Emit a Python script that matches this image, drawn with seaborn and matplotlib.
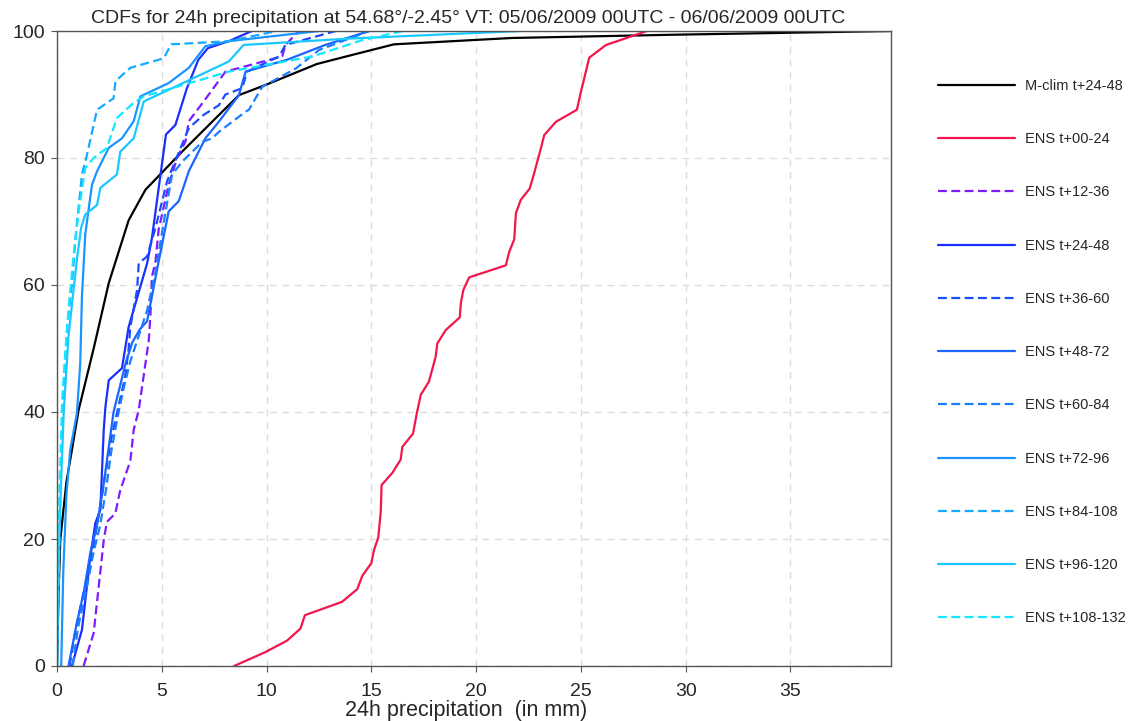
import matplotlib
matplotlib.use("Agg")
import matplotlib.pyplot as plt
import seaborn as sns
import pandas as pd

sns.set_style("ticks")
plt.rcParams["font.family"] = ["Liberation Sans", "DejaVu Sans"]

title = "CDFs for 24h precipitation at 54.68°/-2.45° VT: 05/06/2009 00UTC - 06/06/2009 00UTC"
xlabel = "24h precipitation  (in mm)"
x_ticks = [0, 5, 10, 15, 20, 25, 30, 35]
y_ticks = [0, 20, 40, 60, 80, 100]

labels = ["M-clim t+24-48", "ENS t+00-24", "ENS t+12-36", "ENS t+24-48", "ENS t+36-60",
          "ENS t+48-72", "ENS t+60-84", "ENS t+72-96", "ENS t+84-108", "ENS t+96-120",
          "ENS t+108-132"]

mclim_x = [0, 0.08, 0.16, 0.45, 0.71, 1.03, 1.75, 2.47, 3.42, 4.22, 5.97, 8.68, 9.95, 12.4, 13.93, 16.08, 21.7, 29.2, 39.8]
mclim_y = [0, 12, 20, 29, 34, 40.3, 50, 60.3, 70.2, 75, 81, 89.9, 91.5, 94.8, 96.1, 97.9, 98.9, 99.4, 100]

e00_x = [8.45, 9.95, 10.98, 11.62, 11.83, 13.6, 14.33, 14.57, 15.0, 15.13, 15.33, 15.45, 15.49, 16.0, 16.4, 16.48,
         16.99, 17.17, 17.36, 17.75, 18.07, 18.15, 18.55, 19.22, 19.27, 19.39, 19.67, 21.42, 21.58, 21.82, 21.9,
         22.13, 22.56, 22.77, 23.09, 23.25, 23.81, 24.81, 25.0, 25.4, 26.2, 28.15]
e00_y = [0, 2.2, 4.0, 5.9, 8.0, 10.1, 12.1, 14.2, 16.2, 18.3, 20.2, 24.3, 28.5, 30.4, 32.5, 34.5, 36.6, 39.8,
         42.7, 44.8, 48.7, 50.8, 52.9, 54.9, 57.1, 59.2, 61.2, 63.1, 65.2, 67.2, 71.3, 73.4, 75.2, 77.6, 81.5,
         83.6, 85.7, 87.6, 90.4, 95.8, 97.8, 100]

e12_x = [1.27, 1.75, 2.23, 2.38, 2.78, 3.02, 3.5, 3.66, 3.9, 4.38, 4.46, 4.53, 4.7, 4.85, 5.33, 5.73, 6.13, 6.29,
         7.0, 8.04, 10.75, 10.9, 11.54]
e12_y = [0, 5.2, 19.8, 22.7, 24, 27.7, 32.3, 37.2, 40.3, 51.3, 55.3, 61.3, 63.7, 68.7, 75.8, 80, 82.6, 85.8,
         88.9, 93.6, 96, 97.8, 100]

e24_x = [0.71, 1.19, 1.59, 1.83, 2.07, 2.23, 2.31, 2.47, 3.1, 3.42, 4.3, 4.53, 5.2, 5.65, 6.2, 6.75, 7.2, 8.2, 9.3]
e24_y = [0, 5.7, 17.2, 22.5, 24.6, 37.2, 40.8, 45, 46.9, 53.4, 63.4, 67.4, 83.7, 85.2, 91, 95.5, 97.3, 98.4, 100]

e36_x = [0.6, 0.9, 1.3, 1.7, 2.0, 2.3, 2.6, 2.86, 3.26, 3.42, 3.5, 3.82, 3.9, 4.3, 4.7, 5.25, 5.7, 6.29, 7.0,
         7.72, 8.04, 8.84, 9.07, 10.6, 10.9, 13.3]
e36_y = [0, 6, 12, 18, 24, 30, 36, 39.8, 45.7, 50, 53.4, 59.2, 63.4, 64.5, 69, 76.3, 80, 84.7, 86.8, 88.3, 90,
         91, 93.6, 96, 97.8, 100]

e48_x = [0.55, 0.9, 1.3, 1.6, 1.9, 2.2, 2.45, 2.7, 3.0, 3.3, 3.6, 3.95, 4.3, 4.85, 5.33, 5.81, 6.3, 7.08, 7.72,
         8.68, 9.0, 11.0, 12.8, 14.9]
e48_y = [0, 6, 12, 18, 22, 28, 34, 40, 44, 48, 51, 53, 54.3, 63.7, 71.6, 73.2, 78, 83.1, 85.7, 89.9, 93.6, 95.5,
         97.8, 100]

e60_x = [0.75, 1.0, 1.4, 1.75, 2.05, 2.35, 2.6, 2.94, 3.2, 3.5, 3.9, 4.3, 4.7, 5.1, 5.49, 6.0, 6.92, 7.4, 7.72,
         9.0, 9.16, 9.79, 9.95, 11.4, 12.5, 14.9]
e60_y = [0, 6, 12, 18, 22, 28, 34, 40, 44, 48, 52, 56, 62, 70, 77.4, 79.5, 82.5, 83.1, 84.1, 87.3, 87.6, 91.2,
         91.5, 94.1, 97, 100]

e72_x = [0.2, 0.3, 0.45, 0.63, 0.95, 1.11, 1.19, 1.35, 1.67, 1.91, 2.47, 3.1, 3.66, 3.98, 5.33, 6.29, 7.08, 8.2, 12.5]
e72_y = [0, 15, 27, 34, 39.8, 47.7, 58.2, 68, 75.8, 77.9, 81.6, 83.1, 85.8, 89.7, 91.8, 94.2, 97.6, 98.4, 100]

e84_x = [0, 0.08, 0.18, 0.32, 0.5, 0.71, 0.9, 1.19, 1.43, 1.91, 2.7, 2.79, 3.5, 5.09, 5.45, 8.2, 10.5]
e84_y = [0, 14, 30, 44, 54, 60, 68, 77.4, 80.5, 87.6, 89.4, 92.1, 94.2, 95.7, 97.9, 98.4, 100]

e96_x = [0, 0.05, 0.15, 0.32, 0.55, 0.75, 0.95, 1.15, 1.35, 1.91, 2.07, 2.86, 3.02, 3.66, 4.14, 8.2, 8.9, 13.9, 22.1]
e96_y = [0, 10, 25, 40, 52, 58, 64, 69, 71.1, 72.6, 75.3, 77.4, 81, 83.1, 88.9, 95.2, 97.8, 98.8, 100]

e108_x = [0, 0.05, 0.12, 0.25, 0.45, 0.6, 0.8, 1.05, 1.35, 1.75, 2.38, 2.86, 3.66, 4.14, 8.2, 12.2, 14.5, 16.5]
e108_y = [0, 12, 28, 42, 52, 58, 65, 72, 78.4, 80, 81.6, 86.3, 88.7, 89.7, 93.6, 96, 98.5, 100]

series_x = [mclim_x, e00_x, e12_x, e24_x, e36_x, e48_x, e60_x, e72_x, e84_x, e96_x, e108_x]
series_y = [mclim_y, e00_y, e12_y, e24_y, e36_y, e48_y, e60_y, e72_y, e84_y, e96_y, e108_y]

colors = ["#000000", "#F2164C", "#7F1CFF", "#1A2EFF", "#1A4CFF", "#1A66FF", "#1A7EFF", "#1A94FF",
          "#14AAFF", "#1AC8FF", "#14E6FF"]
dashed = [False, False, True, False, True, False, True, False, True, False, True]

fig = plt.figure(figsize=(11.3, 7.21), dpi=100)
ax = fig.add_axes([57 / 1130, 1 - 666 / 721, 834 / 1130, 635 / 721])

for lab, xs, ys, col, dsh in zip(labels, series_x, series_y, colors, dashed):
    df = pd.DataFrame({"x": xs, "y": ys})
    ls = (0, (4, 2)) if dsh else "-"
    sns.lineplot(data=df, x="x", y="y", sort=False, estimator=None, ax=ax, color=col,
                 linewidth=1.6, linestyle=ls, label=lab, legend=False)

ax.set_xlim(0, 39.8)
ax.set_ylim(0, 100)
ax.set_xticks(x_ticks)
ax.set_yticks(y_ticks)
ax.set_xticklabels([str(t) for t in x_ticks])
ax.set_yticklabels([str(t) for t in y_ticks])
ax.tick_params(axis="both", labelsize=14, direction="out", length=4, color="#555555")
ax.tick_params(axis="y", pad=4.5)
ax.tick_params(axis="x", pad=8)
ax.grid(True, linestyle=(0, (5, 4)), color="#dddddd", linewidth=1)
for s in ax.spines.values():
    s.set_color("#555555")
    s.set_linewidth(1)
ax.set_xlabel(xlabel, fontsize=15.5, labelpad=0)
ax.xaxis.label.set_x((466 - 57) / 834)
ax.set_ylabel("")
ax.set_title(title, fontsize=14, pad=6, x=(468 - 57) / 834)

handles, labs = ax.get_legend_handles_labels()
fig.legend(handles, labs, loc="upper left", bbox_to_anchor=(938 / 1130, 1 - 79 / 721),
           frameon=False, fontsize=10.5, handlelength=5.27, handletextpad=0.68,
           labelspacing=2.69, borderpad=0, borderaxespad=0)

fig.savefig("out.png", dpi=100)
